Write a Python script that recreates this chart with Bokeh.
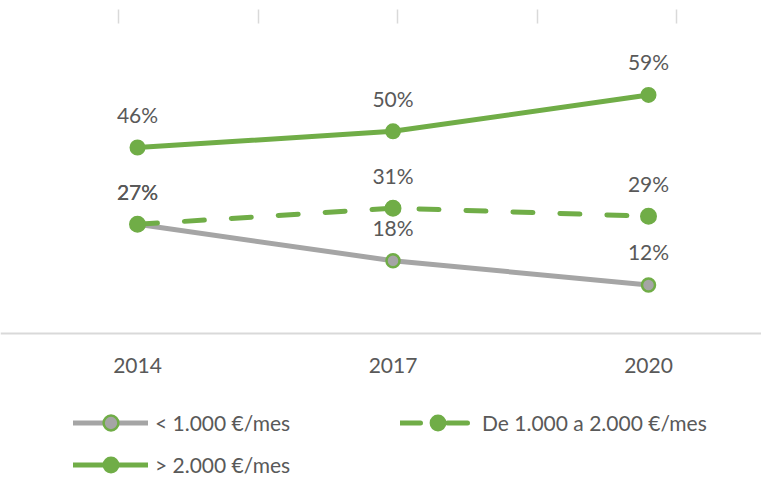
from bokeh.plotting import figure
from bokeh.models import (Range1d, LinearAxis, FixedTicker, Legend, LegendItem,
                          ColumnDataSource)
from bokeh.core.properties import value
from bokeh.embed import file_html
from bokeh.resources import INLINE

# ---- data ----
years = ["2014", "2017", "2020"]
low = [27, 18, 12]          # < 1.000 €/mes
mid = [27, 31, 29]          # De 1.000 a 2.000 €/mes
high = [46, 50, 59]         # > 2.000 €/mes
series_names = ["< 1.000 €/mes", "De 1.000 a 2.000 €/mes", "> 2.000 €/mes"]
top_ticks = [0, 1, 2, 3, 4]

idx = list(range(len(years)))

GREEN = "#70ad47"
GRAY = "#a5a5a5"
TEXT = "#595959"
AXIS = "#d9d9d9"
FONT = "Lato"
FS = "21px"

W, H = 761, 477
cat_px0, cat_step = 137, 255.5        # px of first category, px per category
zero_px, px_per_unit = 333, 4.043     # px (from top) of y=0, px per percent

p = figure(width=W, height=H, output_backend="svg", toolbar_location=None,
           x_axis_type=None, y_axis_type=None,
           min_border=0, min_border_left=0, min_border_right=0,
           min_border_top=0, min_border_bottom=0,
           x_range=Range1d(-cat_px0 / cat_step, (W - cat_px0) / cat_step),
           y_range=Range1d(-(H - zero_px) / px_per_unit, zero_px / px_per_unit))
p.outline_line_color = None
p.grid.visible = False
p.background_fill_color = "white"
p.border_fill_color = "white"

# decorative tick marks at top
tick0, tick_step = 118.3, 139.5
p.extra_x_ranges = {"top": Range1d(-tick0 / tick_step, (W - tick0) / tick_step)}
top_axis = LinearAxis(x_range_name="top", ticker=FixedTicker(ticks=top_ticks),
                      fixed_location=(zero_px - 23) / px_per_unit)
top_axis.axis_line_color = None
top_axis.major_tick_out = 14
top_axis.major_tick_in = 0
top_axis.major_tick_line_color = AXIS
top_axis.major_tick_line_width = 1.5
top_axis.minor_tick_line_color = None
top_axis.major_label_text_color = None
top_axis.major_label_text_font_size = "0px"
p.add_layout(top_axis, "above")

# bottom category axis at y=0
xaxis = LinearAxis(ticker=FixedTicker(ticks=idx), fixed_location=0)
xaxis.major_label_overrides = {i: y for i, y in zip(idx, years)}
xaxis.axis_line_color = AXIS
xaxis.axis_line_width = 2
xaxis.major_tick_line_color = None
xaxis.minor_tick_line_color = None
xaxis.major_label_standoff = 18
xaxis.major_label_text_font = FONT
xaxis.major_label_text_font_size = FS
xaxis.major_label_text_color = TEXT
p.add_layout(xaxis, "below")

# series
l_low = p.line(idx, low, line_color=GRAY, line_width=5, line_cap="round")
m_low = p.scatter(idx, low, size=13, fill_color=GRAY, line_color=GREEN, line_width=2.5)

l_mid = p.line(idx, mid, line_color=GREEN, line_width=5, line_dash="20 27", line_cap="round")
m_mid = p.scatter(idx, mid, size=15, fill_color=GREEN, line_color=GREEN, line_width=2)

l_high = p.line(idx, high, line_color=GREEN, line_width=5, line_cap="round")
m_high = p.scatter(idx, high, size=14, fill_color=GREEN, line_color=GREEN, line_width=2)

# data labels
for vals in (low, mid, high):
    src = ColumnDataSource(dict(x=idx, y=vals, t=[f"{v}%" for v in vals]))
    p.text("x", "y", text="t", source=src, text_align="center",
           text_baseline="alphabetic", y_offset=-33,
           text_font=value(FONT), text_font_size=FS, text_color=TEXT)

def make_legend(items, loc, spacing):
    lg = Legend(items=items, location=loc, orientation="vertical")
    lg.glyph_width = 75
    lg.glyph_height = 37
    lg.spacing = spacing
    lg.label_standoff = 7
    lg.padding = 0
    lg.margin = 0
    lg.border_line_color = None
    lg.background_fill_alpha = 0
    lg.label_text_font = FONT
    lg.label_text_font_size = FS
    lg.label_text_color = TEXT
    return lg

leg1 = make_legend([LegendItem(label=series_names[0], renderers=[l_low, m_low]),
                    LegendItem(label=series_names[2], renderers=[l_high, m_high])],
                   (73, -5.5), 5)
leg2 = make_legend([LegendItem(label=series_names[1], renderers=[l_mid, m_mid])],
                   (400, 36.5), 5)
p.add_layout(leg1, "center")
p.add_layout(leg2, "center")

open("out.html", "w").write(file_html(p, INLINE))
